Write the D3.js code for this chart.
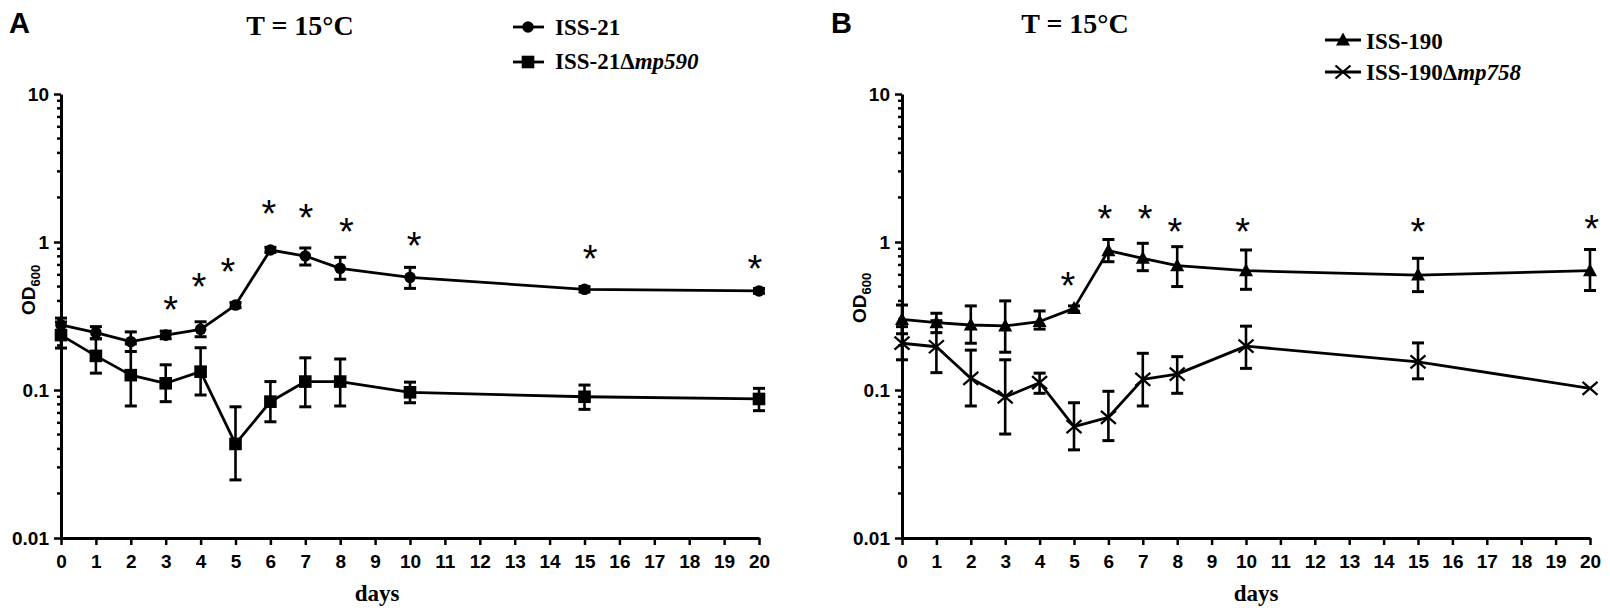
<!DOCTYPE html>
<html>
<head>
<meta charset="utf-8">
<script src="https://cdn.jsdelivr.net/npm/d3@7/dist/d3.min.js"></script>
<style>
  body { margin: 0; background: #fff; }
  svg { display: block; }
</style>
</head>
<body>
<div id="chart"></div>
<script>
/************************
 *  Data
 ************************/
const days = [0, 1, 2, 3, 4, 5, 6, 7, 8, 10, 15, 20];
const dayTicks = [0, 1, 2, 3, 4, 5, 6, 7, 8, 9, 10, 11, 12, 13, 14, 15, 16, 17, 18, 19, 20];
const odTicks = [0.01, 0.1, 1, 10];
const odTickLabels = ["0.01", "0.1", "1", "10"];

// panel A
const iss21Mean = [0.275, 0.244, 0.212, 0.235, 0.257, 0.375, 0.883, 0.804, 0.664, 0.577, 0.479, 0.467];
const iss21Lo   = [0.248, 0.222, 0.182, 0.222, 0.229, 0.36, 0.85, 0.699, 0.56, 0.486, 0.46, 0.45];
const iss21Hi   = [0.306, 0.268, 0.247, 0.25, 0.289, 0.39, 0.92, 0.911, 0.788, 0.674, 0.50, 0.485];

const mp590Mean = [0.235, 0.170, 0.126, 0.111, 0.133, 0.0432, 0.0834, 0.114, 0.114, 0.0965, 0.090, 0.087];
const mp590Lo   = [0.192, 0.130, 0.078, 0.0834, 0.0925, 0.0247, 0.061, 0.077, 0.078, 0.082, 0.074, 0.0725];
const mp590Hi   = [0.288, 0.222, 0.205, 0.148, 0.193, 0.077, 0.114, 0.165, 0.162, 0.113, 0.108, 0.1026];

const starsADays = [3.14, 3.95, 4.78, 5.96, 7.02, 8.18, 10.12, 15.16, 19.88];
const starsAOD   = [0.40, 0.57, 0.72, 1.78, 1.67, 1.34, 1.08, 0.88, 0.76];

// panel B
const iss190Mean = [0.30, 0.285, 0.275, 0.271, 0.29, 0.356, 0.874, 0.776, 0.692, 0.64, 0.598, 0.64];
const iss190Lo   = [0.24, 0.244, 0.207, 0.18, 0.258, 0.34, 0.736, 0.64, 0.50, 0.479, 0.462, 0.47];
const iss190Hi   = [0.375, 0.33, 0.37, 0.40, 0.342, 0.37, 1.04, 0.98, 0.93, 0.883, 0.776, 0.89];

const mp758Mean = [0.207, 0.196, 0.12, 0.0897, 0.112, 0.0565, 0.0654, 0.118, 0.128, 0.198, 0.155, 0.1026];
const mp758Lo   = [0.16, 0.131, 0.078, 0.0504, 0.095, 0.0394, 0.0455, 0.078, 0.095, 0.14, 0.119, 0.1026];
const mp758Hi   = [0.268, 0.294, 0.186, 0.16, 0.13, 0.082, 0.098, 0.177, 0.168, 0.27, 0.208, 0.1026];

const starsBDays = [4.82, 5.9, 7.07, 7.93, 9.9, 15.0, 20.05];
const starsBOD   = [0.58, 1.64, 1.64, 1.35, 1.35, 1.35, 1.41];

/************************
 *  Layout
 ************************/
const width = 1610;
const height = 614;
const sansFont = "'Liberation Sans', Arial, sans-serif";
const serifFont = "'Liberation Serif', 'Times New Roman', serif";

const panels = [
  {
    letter: "A", letterX: 9, letterY: 33,
    x0: 61, x1: 759,
    titleX: 300, titleY: 35,
    daysX: 377,
    yLabelX: 35, yLabelY: 315,
    legend: { markX: 528, lineX0: 513, lineX1: 544, textX: 555, rows: [27, 62], base: [35, 69] },
    series: [
      { name: "ISS-21", italic: "", marker: "circle", mean: iss21Mean, lo: iss21Lo, hi: iss21Hi },
      { name: "ISS-21\u0394", italic: "mp590", marker: "square", mean: mp590Mean, lo: mp590Lo, hi: mp590Hi }
    ],
    starDays: starsADays, starOD: starsAOD
  },
  {
    letter: "B", letterX: 831, letterY: 33,
    x0: 902, x1: 1590,
    titleX: 1075, titleY: 33,
    daysX: 1256,
    yLabelX: 866, yLabelY: 323,
    legend: { markX: 1343, lineX0: 1325, lineX1: 1361, textX: 1366, rows: [40, 72], base: [49, 80] },
    series: [
      { name: "ISS-190", italic: "", marker: "triangle", mean: iss190Mean, lo: iss190Lo, hi: iss190Hi },
      { name: "ISS-190\u0394", italic: "mp758", marker: "cross", mean: mp758Mean, lo: mp758Lo, hi: mp758Hi }
    ],
    starDays: starsBDays, starOD: starsBOD
  }
];

const svg = d3.select("#chart")
  .append("svg")
  .attr("width", width)
  .attr("height", height);

const y = d3.scaleLog().domain([0.01, 10]).range([538, 94]);

/************************
 *  Markers
 ************************/
function draw_marker(g, type, cx, cy) {
  if (type === "circle") {
    g.append("circle").attr("cx", cx).attr("cy", cy).attr("r", 5.8).attr("fill", "#000");
  } else if (type === "square") {
    g.append("rect").attr("x", cx - 6.3).attr("y", cy - 6.3)
      .attr("width", 12.6).attr("height", 12.6).attr("fill", "#000");
  } else if (type === "triangle") {
    g.append("path")
      .attr("d", `M${cx},${cy - 7.5}L${cx + 7},${cy + 5.5}L${cx - 7},${cy + 5.5}Z`)
      .attr("fill", "#000");
  } else {
    g.append("path")
      .attr("d", `M${cx - 7.5},${cy - 6.5}L${cx + 7.5},${cy + 6.5}M${cx - 7.5},${cy + 6.5}L${cx + 7.5},${cy - 6.5}`)
      .attr("stroke", "#000").attr("stroke-width", 2.3).attr("fill", "none");
  }
}

/************************
 *  Panels
 ************************/
function draw_panel(p) {
  const x = d3.scaleLinear().domain([0, 20]).range([p.x0, p.x1]);
  const g = svg.append("g");

  // panel letter and title
  g.append("text")
    .attr("x", p.letterX).attr("y", p.letterY)
    .style("font-family", sansFont).style("font-weight", "bold").style("font-size", "29px")
    .text(p.letter);

  g.append("text")
    .attr("x", p.titleX).attr("y", p.titleY)
    .attr("text-anchor", "middle")
    .style("font-family", serifFont).style("font-weight", "bold").style("font-size", "28px")
    .text("T = 15\u00B0C");

  // axes
  const xAxis = g.append("g")
    .attr("transform", `translate(0, ${y(0.01)})`)
    .call(d3.axisBottom(x).tickValues(dayTicks).tickSize(7).tickSizeOuter(0).tickPadding(10));

  const yAxis = g.append("g")
    .attr("transform", `translate(${p.x0}, 0)`)
    .call(d3.axisLeft(y).tickValues(odTicks).tickFormat((d, i) => odTickLabels[i])
      .tickSize(7).tickSizeOuter(0).tickPadding(5));

  [xAxis, yAxis].forEach(a => {
    a.select(".domain").attr("stroke-width", 3).attr("stroke", "#000");
    a.selectAll(".tick line").attr("stroke-width", 2.5).attr("stroke", "#000");
    a.selectAll(".tick text")
      .style("font-family", sansFont).style("font-weight", "bold").style("font-size", "19px")
      .attr("fill", "#000");
  });

  // minor log ticks
  const minor = y.ticks().filter(v => !odTicks.some(t => Math.abs(t - v) < 1e-9));
  yAxis.selectAll(".minor")
    .data(minor)
    .enter()
    .append("line")
    .attr("class", "minor")
    .attr("x1", -4).attr("x2", 0)
    .attr("y1", d => y(d)).attr("y2", d => y(d))
    .attr("stroke", "#000").attr("stroke-width", 2.5);

  // axis titles
  g.append("text")
    .attr("x", p.daysX).attr("y", 601)
    .attr("text-anchor", "middle")
    .style("font-family", serifFont).style("font-weight", "bold").style("font-size", "23px")
    .text("days");

  const yl = g.append("text")
    .attr("transform", `translate(${p.yLabelX}, ${p.yLabelY}) rotate(-90)`)
    .style("font-family", sansFont).style("font-weight", "bold").style("font-size", "19px");
  yl.append("tspan").text("OD");
  yl.append("tspan").attr("dy", 5).style("font-size", "13px").text("600");

  // series
  const line = d3.line().x(d => x(d.day)).y(d => y(d.mean));

  p.series.forEach(s => {
    const pts = days.map((d, i) => ({ day: d, mean: s.mean[i], lo: s.lo[i], hi: s.hi[i] }));
    const sg = g.append("g");

    // error bars
    const eb = sg.selectAll(".err").data(pts.filter(d => d.hi > d.lo)).enter().append("g")
      .attr("stroke", "#000").attr("stroke-width", 3);
    eb.append("line")
      .attr("x1", d => x(d.day)).attr("x2", d => x(d.day))
      .attr("y1", d => y(d.lo)).attr("y2", d => y(d.hi)).attr("stroke-width", 2.6);
    eb.append("line")
      .attr("x1", d => x(d.day) - 6).attr("x2", d => x(d.day) + 6)
      .attr("y1", d => y(d.lo)).attr("y2", d => y(d.lo));
    eb.append("line")
      .attr("x1", d => x(d.day) - 6).attr("x2", d => x(d.day) + 6)
      .attr("y1", d => y(d.hi)).attr("y2", d => y(d.hi));

    sg.append("path")
      .datum(pts)
      .attr("d", line)
      .attr("fill", "none")
      .attr("stroke", "#000")
      .attr("stroke-width", 2.8)
      .attr("stroke-linejoin", "round");

    pts.forEach(d => draw_marker(sg, s.marker, x(d.day), y(d.mean)));
  });

  // significance stars
  g.selectAll(".star")
    .data(p.starDays.map((d, i) => ({ day: d, od: p.starOD[i] })))
    .enter()
    .append("text")
    .attr("class", "star")
    .attr("x", d => x(d.day))
    .attr("y", d => y(d.od))
    .attr("dy", "0.58em")
    .attr("text-anchor", "middle")
    .style("font-family", sansFont).style("font-size", "38px")
    .text("*");

  // legend
  const L = p.legend;
  p.series.forEach((s, i) => {
    const lg = g.append("g");
    lg.append("line")
      .attr("x1", L.lineX0).attr("x2", L.lineX1)
      .attr("y1", L.rows[i]).attr("y2", L.rows[i])
      .attr("stroke", "#000").attr("stroke-width", 2.8);
    draw_marker(lg, s.marker, L.markX, L.rows[i]);
    const t = lg.append("text")
      .attr("x", L.textX).attr("y", L.base[i])
      .style("font-family", serifFont).style("font-weight", "bold").style("font-size", "23px");
    t.append("tspan").text(s.name);
    if (s.italic) t.append("tspan").style("font-style", "italic").text(s.italic);
  });
}

panels.forEach(draw_panel);
</script>
</body>
</html>
